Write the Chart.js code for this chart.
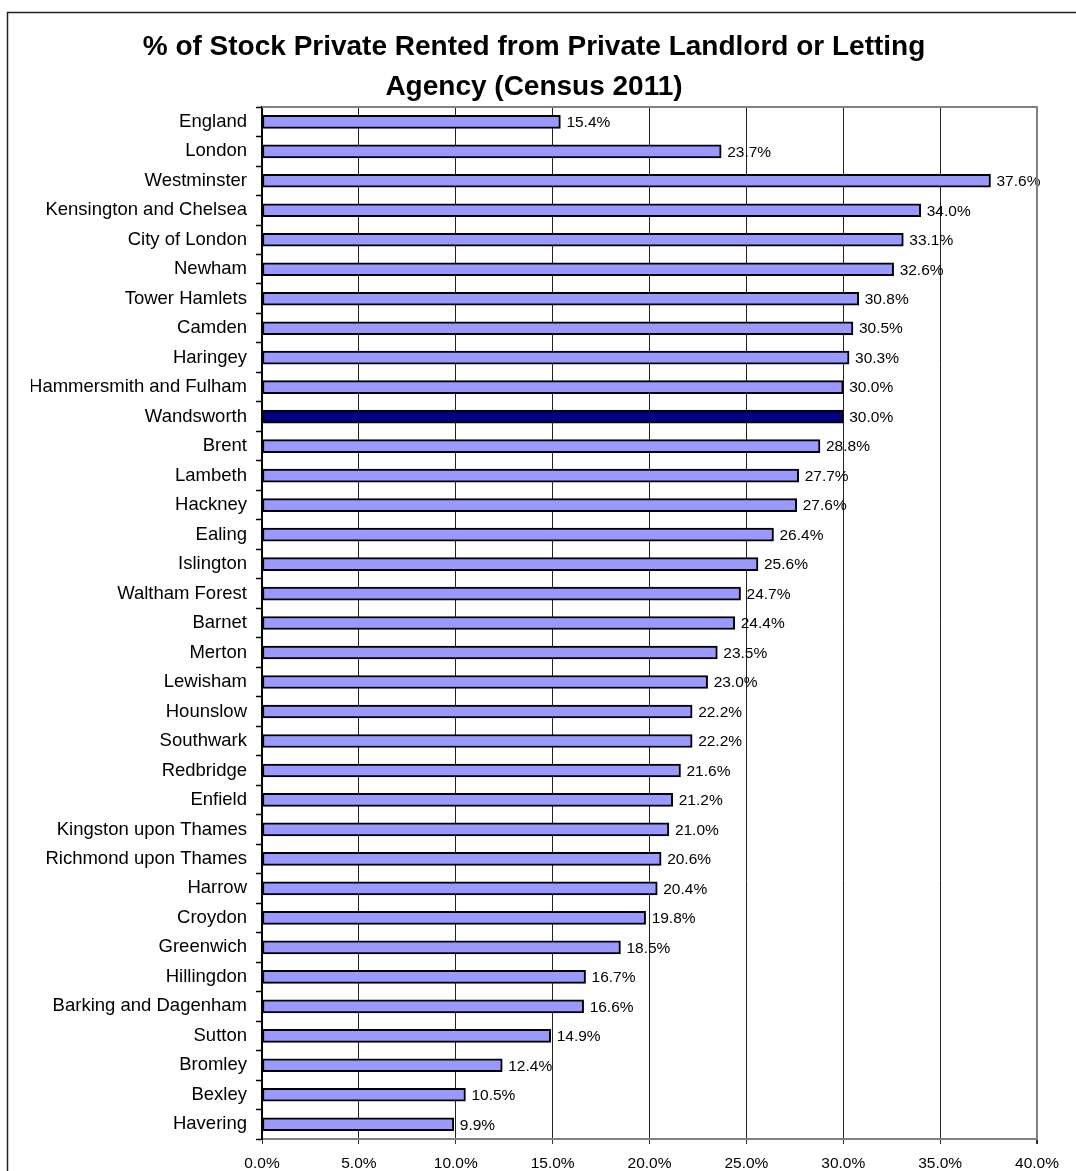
<!DOCTYPE html>
<html>
<head>
<meta charset="utf-8">
<script src="https://cdn.jsdelivr.net/npm/chart.js@4.4.1/dist/chart.umd.min.js"></script>
<style>
  body { margin: 0; background: #fff; }
  canvas { display: block; }
</style>
</head>
<body>
<canvas id="rentchart" width="1076" height="1171"></canvas>
<script>
const areas = ["England", "London", "Westminster", "Kensington and Chelsea", "City of London", "Newham",
  "Tower Hamlets", "Camden", "Haringey", "Hammersmith and Fulham", "Wandsworth", "Brent", "Lambeth",
  "Hackney", "Ealing", "Islington", "Waltham Forest", "Barnet", "Merton", "Lewisham", "Hounslow",
  "Southwark", "Redbridge", "Enfield", "Kingston upon Thames", "Richmond upon Thames", "Harrow",
  "Croydon", "Greenwich", "Hillingdon", "Barking and Dagenham", "Sutton", "Bromley", "Bexley", "Havering"];
const privateRented = [15.4, 23.7, 37.6, 34.0, 33.1, 32.6, 30.8, 30.5, 30.3, 30.0, 30.0, 28.8, 27.7,
  27.6, 26.4, 25.6, 24.7, 24.4, 23.5, 23.0, 22.2, 22.2, 21.6, 21.2, 21.0, 20.6, 20.4,
  19.8, 18.5, 16.7, 16.6, 14.9, 12.4, 10.5, 9.9];
const highlightArea = "Wandsworth";
const titleLines = ["% of Stock Private Rented from Private Landlord or Letting", "Agency (Census 2011)"];

const FONT = "'Liberation Sans', Arial, sans-serif";

// outer frame, plot top/right edge
const framePlugin = {
  id: 'frame',
  beforeDraw(chart) {
    const ctx = chart.ctx;
    ctx.save();
    ctx.fillStyle = '#fff';
    ctx.fillRect(0, 0, chart.width, chart.height);
    ctx.strokeStyle = '#222';
    ctx.lineWidth = 1.5;
    ctx.strokeRect(7.5, 12.5, chart.width + 20, chart.height + 20);
    ctx.restore();
  },
  afterDraw(chart) {
    const a = chart.chartArea, ctx = chart.ctx;
    ctx.save();
    ctx.strokeStyle = '#808080';
    ctx.lineWidth = 2;
    ctx.beginPath();
    ctx.moveTo(a.left, a.top);
    ctx.lineTo(a.right, a.top);
    ctx.lineTo(a.right, a.bottom);
    ctx.stroke();
    ctx.restore();
  }
};

// value labels at bar ends
const valueLabels = {
  id: 'valueLabels',
  afterDatasetsDraw(chart) {
    const ctx = chart.ctx;
    const meta = chart.getDatasetMeta(0);
    ctx.save();
    ctx.font = '15.5px ' + FONT;
    ctx.fillStyle = '#000';
    ctx.textAlign = 'left';
    ctx.textBaseline = 'middle';
    meta.data.forEach(function (bar, i) {
      ctx.fillText(privateRented[i].toFixed(1) + '%', bar.x + 6, bar.y + 1);
    });
    ctx.restore();
  }
};

const config = {
  type: 'bar',
  data: {
    labels: areas,
    datasets: [{
      data: privateRented,
      backgroundColor: areas.map(function (a) { return a === highlightArea ? '#000080' : '#9999FF'; }),
      borderColor: '#000',
      borderWidth: 2,
      borderSkipped: false,
      barThickness: 13
    }]
  },
  options: {
    indexAxis: 'y',
    responsive: false,
    animation: false,
    layout: { padding: { top: 12, left: 31, right: 39, bottom: 0 } },
    plugins: {
      legend: { display: false },
      tooltip: { enabled: false },
      title: {
        display: true,
        text: titleLines,
        color: '#000',
        font: { family: FONT, size: 28, weight: 'bold', lineHeight: 1.43 },
        padding: { top: 15, bottom: 0 }
      }
    },
    scales: {
      x: {
        min: 0,
        max: 40,
        ticks: {
          stepSize: 5,
          color: '#000',
          padding: 10,
          font: { family: FONT, size: 15.5 },
          callback: function (v) { return Number(v).toFixed(1) + '%'; }
        },
        grid: {
          color: function (c) { return c.index === 8 ? '#808080' : '#222'; },
          lineWidth: function (c) { return c.index === 8 ? 2 : 1; },
          tickColor: '#333',
          tickLength: 5
        },
        border: { color: '#808080', width: 2 },
        afterFit: function (s) { s.height = 32; }
      },
      y: {
        ticks: {
          color: '#000',
          autoSkip: false,
          padding: 9,
          font: { family: FONT, size: 18.5 }
        },
        grid: {
          drawOnChartArea: false,
          drawTicks: true,
          tickLength: 6,
          tickColor: '#000',
          tickWidth: 1.5
        },
        border: { color: '#000', width: 2 },
        afterFit: function (s) { s.width = 231; }
      }
    }
  },
  plugins: [framePlugin, valueLabels]
};

const myChart = new Chart(document.getElementById('rentchart'), config);
</script>
</body>
</html>
